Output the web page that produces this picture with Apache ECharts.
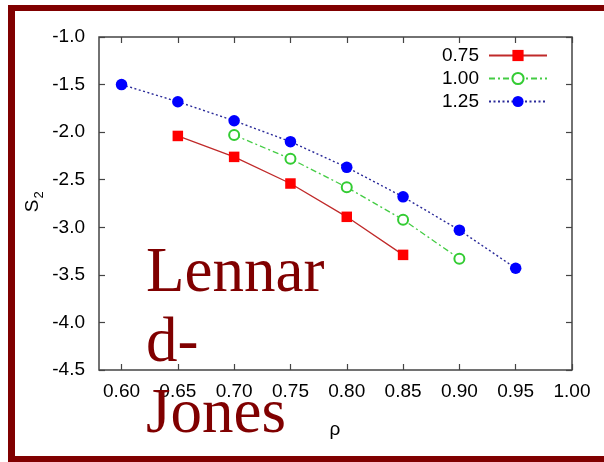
<!DOCTYPE html>
<html>
<head>
<meta charset="utf-8">
<script src="https://cdn.jsdelivr.net/npm/echarts@6/dist/echarts.min.js"></script>
<style>html,body{margin:0;padding:0;background:#fff}#c{width:604px;height:462px}</style>
</head>
<body>
<div id="c"></div>
<script>
var xTicks = [0.60, 0.65, 0.70, 0.75, 0.80, 0.85, 0.90, 0.95, 1.00];
var legendNames = ['0.75', '1.00', '1.25'];
var rho075 = [0.65, 0.70, 0.75, 0.80, 0.85];
var s075 = [-2.04, -2.26, -2.54, -2.89, -3.29];
var rho100 = [0.70, 0.75, 0.80, 0.85, 0.90];
var s100 = [-2.03, -2.28, -2.58, -2.92, -3.33];
var rho125 = [0.60, 0.65, 0.70, 0.75, 0.80, 0.85, 0.90, 0.95];
var s125 = [-1.50, -1.68, -1.88, -2.10, -2.37, -2.68, -3.03, -3.43];

function pairs(xs, ys) { return xs.map(function (x, i) { return [x, ys[i]]; }); }

var FONT = 'Liberation Sans';
var axisCol = '#444';
var chart = echarts.init(document.getElementById('c'), null, { renderer: 'canvas' });
var baseX = {
  type: 'value', min: 0.58, max: 1.0,
  axisLine: { show: false },
  splitLine: { show: false },
  axisTick: { show: true, inside: true, length: 6, customValues: xTicks, lineStyle: { color: axisCol, width: 1.2 } }
};
var baseY = {
  type: 'value', min: -4.5, max: -1.0, interval: 0.5,
  axisLine: { show: false },
  splitLine: { show: false },
  axisTick: { show: true, inside: true, length: 6, lineStyle: { color: axisCol, width: 1.2 } }
};
chart.setOption({
  animation: false,
  backgroundColor: '#fff',
  grid: { left: 99, right: 32, top: 37, bottom: 92, show: true, borderColor: axisCol, borderWidth: 1.5, backgroundColor: 'transparent' },
  xAxis: [
    Object.assign({}, baseX, {
      position: 'bottom',
      axisLabel: { show: true, customValues: xTicks, margin: 12, color: '#000', fontFamily: FONT, fontSize: 19,
        formatter: function (v) { return v.toFixed(2); } }
    }),
    Object.assign({}, baseX, { position: 'top', axisLabel: { show: false } })
  ],
  yAxis: [
    Object.assign({}, baseY, {
      position: 'left',
      axisLabel: { show: true, margin: 14, color: '#000', fontFamily: FONT, fontSize: 19,
        formatter: function (v) { return v.toFixed(1); } }
    }),
    Object.assign({}, baseY, { position: 'right', axisLabel: { show: false } })
  ],
  legend: {
    orient: 'vertical', right: 51, top: 41, align: 'right',
    itemWidth: 58, itemHeight: 14, itemGap: 4,
    textStyle: { fontFamily: FONT, fontSize: 19, color: '#000', padding: [0, 5, 0, 0] },
    data: legendNames
  },
  series: [
    { name: legendNames[0], type: 'line', data: pairs(rho075, s075), symbol: 'rect', symbolSize: 10.5,
      itemStyle: { color: '#ff0000' }, lineStyle: { color: '#c02a2a', width: 1.3, type: 'solid' } },
    { name: legendNames[1], type: 'line', data: pairs(rho100, s100), symbol: 'emptyCircle', symbolSize: 10,
      itemStyle: { color: '#33cc33', borderWidth: 1.4 }, lineStyle: { color: '#44cc44', width: 1.3, type: [6, 3, 2, 3] } },
    { name: legendNames[2], type: 'line', data: pairs(rho125, s125), symbol: 'circle', symbolSize: 11.5,
      itemStyle: { color: '#0000ff' }, lineStyle: { color: '#2a2a99', width: 1.4, type: [2, 2.5] } }
  ],
  graphic: [
    { type: 'rect', z: 100, shape: { x: 8, y: 5, width: 7, height: 457 }, style: { fill: '#800000' } },
    { type: 'rect', z: 100, shape: { x: 8, y: 5, width: 596, height: 6 }, style: { fill: '#800000' } },
    { type: 'rect', z: 100, shape: { x: 8, y: 456, width: 596, height: 6 }, style: { fill: '#800000' } },
    { type: 'text', z: 100, x: 335, y: 430, style: { text: 'ρ', font: '19px ' + FONT, fill: '#000', align: 'center', verticalAlign: 'middle' } },
    { type: 'group', z: 100, x: 33, y: 206, rotation: Math.PI / 2, children: [
      { type: 'text', z: 100, x: 0, y: 0, style: { text: 'S', font: '19px ' + FONT, fill: '#000', align: 'center', verticalAlign: 'middle' } },
      { type: 'text', z: 100, x: 11, y: 6, style: { text: '2', font: '13px ' + FONT, fill: '#000', align: 'center', verticalAlign: 'middle' } }
    ] },
    { type: 'text', z: 101, x: 146, y: 239,
      style: { text: 'Lennar\nd-\nJones', font: '63px "Liberation Serif"', lineHeight: 70.5, fill: '#800000', align: 'left', verticalAlign: 'top' } }
  ]
});
</script>
</body>
</html>
